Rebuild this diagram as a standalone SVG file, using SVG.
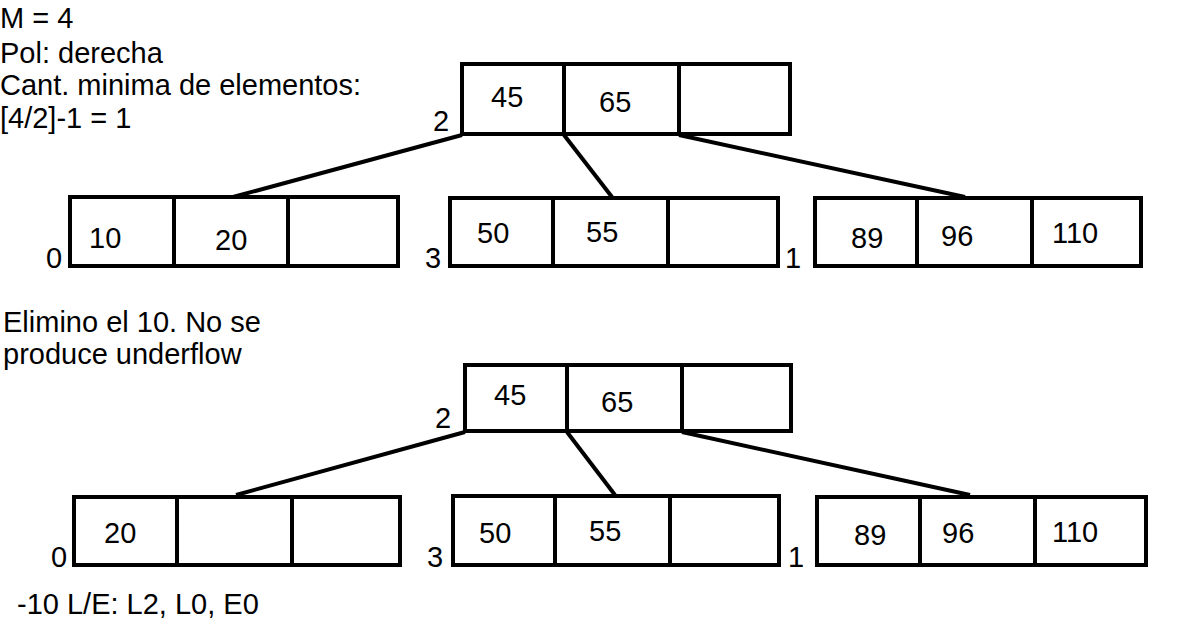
<svg xmlns="http://www.w3.org/2000/svg" width="1204" height="637" viewBox="0 0 1204 637">
<style>
.box{fill:none;stroke:#000;stroke-width:4}
.div{stroke:#000;stroke-width:4}
.edge{stroke:#000;stroke-width:4;fill:none}
text{font-family:"Liberation Sans",Arial,sans-serif;font-size:29px;fill:#000}
</style>
<rect width="1204" height="637" fill="#fff"/>
<g id="notes">
<text x="0" y="28">M = 4</text>
<text x="0" y="63">Pol: derecha</text>
<text x="0" y="95">Cant. minima de elementos:</text>
<text x="0" y="128">[4/2]-1 = 1</text>
<text x="3" y="332">Elimino el 10. No se</text>
<text x="3" y="364">produce underflow</text>
<text x="17" y="614">-10 L/E: L2, L0, E0</text>
</g>
<g id="connectors">
<line class="edge" x1="462" y1="135" x2="233" y2="197"/>
<line class="edge" x1="564" y1="135" x2="612" y2="197"/>
<line class="edge" x1="679" y1="135" x2="965" y2="197"/>
<line class="edge" x1="465" y1="432" x2="236" y2="495"/>
<line class="edge" x1="567" y1="432" x2="615" y2="495"/>
<line class="edge" x1="682" y1="432" x2="970" y2="495"/>
</g>
<g id="root1">
<rect class="box" x="462" y="64" width="328" height="70" fill="#fff"/>
<line class="div" x1="564" y1="64" x2="564" y2="134"/>
<line class="div" x1="679" y1="64" x2="679" y2="134"/>
<text x="491" y="107">45</text>
<text x="599" y="112">65</text>
<text x="433" y="131">2</text>
</g>
<g id="leaf1_0">
<rect class="box" x="70" y="197" width="328" height="69"/>
<line class="div" x1="174" y1="197" x2="174" y2="266"/>
<line class="div" x1="288" y1="197" x2="288" y2="266"/>
<text x="89" y="248">10</text>
<text x="215" y="250">20</text>
<text x="46" y="268">0</text>
</g>
<g id="leaf1_3">
<rect class="box" x="450" y="198" width="328" height="68"/>
<line class="div" x1="553" y1="198" x2="553" y2="266"/>
<line class="div" x1="668" y1="198" x2="668" y2="266"/>
<text x="477" y="243">50</text>
<text x="586" y="242">55</text>
<text x="425" y="268">3</text>
</g>
<g id="leaf1_1">
<rect class="box" x="815" y="198" width="326" height="68"/>
<line class="div" x1="917" y1="198" x2="917" y2="266"/>
<line class="div" x1="1032" y1="198" x2="1032" y2="266"/>
<text x="851" y="248">89</text>
<text x="941" y="246">96</text>
<text x="1052" y="243">110</text>
<text x="785" y="268">1</text>
</g>
<g id="root2">
<rect class="box" x="465" y="365" width="326" height="66"/>
<line class="div" x1="567" y1="365" x2="567" y2="431"/>
<line class="div" x1="682" y1="365" x2="682" y2="431"/>
<text x="494" y="405">45</text>
<text x="601" y="412">65</text>
<text x="435" y="428">2</text>
</g>
<g id="leaf2_0">
<rect class="box" x="74" y="497" width="326" height="68"/>
<line class="div" x1="177" y1="497" x2="177" y2="565"/>
<line class="div" x1="292" y1="497" x2="292" y2="565"/>
<text x="104" y="543">20</text>
<text x="51" y="567">0</text>
</g>
<g id="leaf2_3">
<rect class="box" x="453" y="496" width="326" height="69"/>
<line class="div" x1="555" y1="496" x2="555" y2="565"/>
<line class="div" x1="670" y1="496" x2="670" y2="565"/>
<text x="479" y="543">50</text>
<text x="589" y="541">55</text>
<text x="427" y="567">3</text>
</g>
<g id="leaf2_1">
<rect class="box" x="817" y="497" width="329" height="68"/>
<line class="div" x1="920" y1="497" x2="920" y2="565"/>
<line class="div" x1="1035" y1="497" x2="1035" y2="565"/>
<text x="854" y="545">89</text>
<text x="942" y="543">96</text>
<text x="1052" y="542">110</text>
<text x="788" y="567">1</text>
</g>
</svg>
